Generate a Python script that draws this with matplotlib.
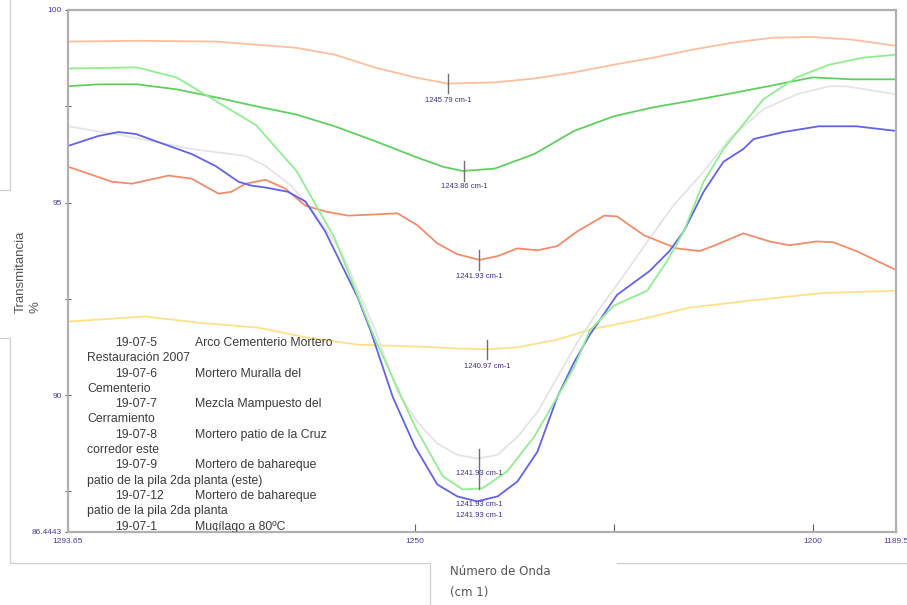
import matplotlib
matplotlib.use("Agg")
import matplotlib.pyplot as plt
from matplotlib.lines import Line2D

# --- spectra (wavenumber cm-1, transmittance %) ---
wn_peach = [1293.65, 1285.0, 1275.0, 1265.0, 1260.1, 1255.1, 1250.0, 1245.9, 1240.0, 1235.0,
            1230.0, 1225.0, 1220.1, 1215.1, 1210.1, 1205.1, 1200.0, 1195.0, 1189.5]
t_peach = [99.18, 99.20, 99.18, 99.02, 98.84, 98.51, 98.25, 98.09, 98.12, 98.22,
           98.38, 98.58, 98.76, 98.97, 99.15, 99.28, 99.30, 99.23, 99.07]

wn_dgreen = [1293.65, 1289.8, 1285.0, 1280.0, 1275.0, 1270.0, 1265.0, 1260.1, 1255.1, 1250.0,
             1246.5, 1244.0, 1240.0, 1235.0, 1230.0, 1225.0, 1220.1, 1215.1, 1210.1, 1205.1,
             1200.0, 1195.0, 1189.5]
t_dgreen = [98.02, 98.07, 98.07, 97.94, 97.73, 97.50, 97.29, 96.98, 96.60, 96.19,
            95.93, 95.82, 95.88, 96.26, 96.86, 97.24, 97.47, 97.65, 97.84, 98.04,
            98.25, 98.20, 98.20]

wn_lgreen = [1293.65, 1285.0, 1280.0, 1275.0, 1270.0, 1264.9, 1260.1, 1255.1, 1250.0, 1246.5,
             1244.0, 1241.5, 1238.4, 1235.0, 1232.1, 1230.0, 1228.0, 1225.0, 1220.8, 1218.3,
             1216.2, 1213.7, 1211.2, 1206.2, 1202.0, 1197.9, 1193.7, 1189.5]
t_lgreen = [98.48, 98.51, 98.25, 97.63, 97.01, 95.82, 94.07, 91.49, 89.18, 87.89,
            87.55, 87.58, 88.02, 88.92, 89.95, 90.72, 91.68, 92.32, 92.71, 93.48,
            94.25, 95.54, 96.39, 97.68, 98.25, 98.58, 98.76, 98.84]

wn_blue = [1293.65, 1289.8, 1287.3, 1285.1, 1282.3, 1278.1, 1275.1, 1272.2, 1270.6, 1268.8,
           1266.0, 1263.8, 1261.3, 1257.2, 1255.6, 1252.8, 1250.0, 1247.2, 1244.7, 1242.2,
           1239.6, 1237.1, 1234.6, 1232.1, 1230.0, 1228.0, 1224.6, 1220.5, 1218.0, 1216.2,
           1213.7, 1211.2, 1208.7, 1207.4, 1203.7, 1199.2, 1194.5, 1189.5]
t_blue = [96.47, 96.73, 96.83, 96.78, 96.57, 96.26, 95.95, 95.54, 95.44, 95.39,
          95.28, 95.03, 94.25, 92.53, 91.68, 89.95, 88.66, 87.68, 87.37, 87.24,
          87.37, 87.76, 88.53, 89.95, 90.85, 91.57, 92.60, 93.22, 93.74, 94.25,
          95.28, 96.06, 96.39, 96.65, 96.83, 96.98, 96.98, 96.86]

wn_gray = [1293.65, 1286.4, 1278.1, 1271.3, 1268.8, 1265.6, 1263.1, 1259.3, 1255.0, 1252.2,
           1249.7, 1247.2, 1244.7, 1242.2, 1239.6, 1237.1, 1234.6, 1232.1, 1229.6, 1226.7,
           1223.7, 1220.5, 1217.5, 1213.7, 1210.5, 1206.2, 1202.0, 1197.9, 1195.8, 1189.5]
t_gray = [96.98, 96.73, 96.39, 96.21, 95.95, 95.44, 94.85, 93.74, 91.68, 90.08,
          89.30, 88.74, 88.45, 88.35, 88.45, 88.92, 89.56, 90.46, 91.37, 92.27,
          93.12, 94.07, 94.92, 95.80, 96.65, 97.42, 97.81, 98.02, 98.02, 97.81]

wn_orange = [1293.65, 1288.1, 1285.6, 1281.0, 1278.1, 1274.7, 1273.1, 1271.3, 1268.8, 1266.3,
             1263.8, 1261.3, 1258.4, 1255.1, 1252.2, 1249.7, 1247.2, 1244.7, 1241.9, 1239.6,
             1237.1, 1234.6, 1232.1, 1229.6, 1226.2, 1224.6, 1221.2, 1217.1, 1214.2, 1212.5,
             1208.7, 1205.4, 1202.9, 1199.5, 1197.4, 1194.5, 1189.5]
t_orange = [95.93, 95.54, 95.49, 95.70, 95.62, 95.23, 95.28, 95.49, 95.59, 95.36,
            94.92, 94.77, 94.66, 94.69, 94.72, 94.41, 93.94, 93.66, 93.51, 93.61,
            93.81, 93.76, 93.87, 94.25, 94.66, 94.64, 94.15, 93.81, 93.74, 93.87,
            94.20, 93.99, 93.89, 93.99, 93.97, 93.74, 93.25]

wn_yellow = [1293.65, 1283.9, 1277.2, 1269.7, 1263.5, 1257.2, 1249.7, 1244.7, 1240.9, 1237.1,
             1232.1, 1228.0, 1221.7, 1215.5, 1207.1, 1198.7, 1189.5]
t_yellow = [91.91, 92.04, 91.88, 91.75, 91.49, 91.31, 91.26, 91.21, 91.19, 91.24,
            91.44, 91.70, 91.96, 92.27, 92.47, 92.65, 92.71]

# peak markers: position, tick top / bottom, label height
peak_wn = [1245.79, 1243.86, 1241.93, 1240.97, 1241.93, 1241.93, 1241.93]
peak_top = [98.35, 96.08, 93.76, 91.44, 88.61, None, None]
peak_bot = [97.84, 95.57, 93.25, 90.93, 87.55, None, None]
peak_lab_y = [97.64, 95.42, 93.07, 90.75, 87.96, 87.16, 86.88]

# legend text (sample code, description, wrapped line)
leg_codes = ["19-07-5", "19-07-6", "19-07-7", "19-07-8", "19-07-9", "19-07-12", "19-07-1"]
leg_names = ["Arco Cementerio Mortero", "Mortero Muralla del", "Mezcla Mampuesto del",
             "Mortero patio de la Cruz", "Mortero de bahareque", "Mortero de bahareque",
             "Mucílago a 80ºC"]
leg_wrap = ["Restauración 2007", "Cementerio", "Cerramiento", "corredor este",
            "patio de la pila 2da planta (este)", "patio de la pila 2da planta", ""]

xtick_vals = [1293.65, 1275, 1250, 1225, 1200, 1189.5]
xtick_labs = ["1293.65", "", "1250", "", "1200", "1189.5"]
ytick_vals = [86.4443, 90, 95, 100]
ytick_labs = ["86.4443", "90", "95", "100"]
ytick_minor = [87.5, 92.5, 97.5]

W, H = 907, 605
fig = plt.figure(figsize=(W / 100, H / 100), dpi=100)
ax = fig.add_axes([68 / W, 1 - 532 / H, 828 / W, 522 / H])

lw = 1.3
ax.plot(wn_yellow, t_yellow, color="#ffe08a", lw=lw)
ax.plot(wn_gray, t_gray, color="#e4e4e4", lw=lw)
ax.plot(wn_orange, t_orange, color="#ef8d6b", lw=lw)
ax.plot(wn_peach, t_peach, color="#fcbe9e", lw=lw)
ax.plot(wn_dgreen, t_dgreen, color="#5fd05f", lw=lw)
ax.plot(wn_blue, t_blue, color="#6262e8", lw=lw)
ax.plot(wn_lgreen, t_lgreen, color="#90ee90", lw=lw)

ax.set_xlim(1293.65, 1189.5)
ax.set_ylim(86.4443, 100)

for x, t0, t1, ty in zip(peak_wn, peak_top, peak_bot, peak_lab_y):
    if t0 is not None:
        ax.plot([x, x], [t1, t0], color="#707070", lw=1.0)
    ax.text(x, ty, f"{x:.2f} cm-1", ha="center", va="center", fontsize=5.5,
            color="#3b2f86", family="Liberation Sans")

# legend text block inside the axes (clipped at the bottom)
row_h = 15.3
y0 = 343
lfont = dict(fontsize=8.8, color="#3c3c3c", family="Liberation Sans", va="center",
             transform=ax.transAxes, clip_on=True)
for i, (code, name, wrap) in enumerate(zip(leg_codes, leg_names, leg_wrap)):
    py1 = y0 + row_h * (2 * i)
    py2 = py1 + row_h
    t = ax.text((115 - 68) / 828, (532 - py1) / 522, code, **lfont)
    t = ax.text((195 - 68) / 828, (532 - py1) / 522, name, **lfont)
    if wrap:
        ax.text((87 - 68) / 828, (532 - py2) / 522, wrap, **lfont)

ax.set_xticks(xtick_vals)
ax.set_xticklabels(xtick_labs)
ax.set_yticks(ytick_vals)
ax.set_yticklabels(ytick_labs)
ax.set_yticks(ytick_minor, minor=True)
ax.tick_params(axis="x", direction="in", length=6, width=0.8, color="#606060",
               labelsize=6, labelcolor="#4a3a9a", pad=4)
ax.tick_params(axis="y", which="both", direction="inout", length=5, width=0.8, color="#606060",
               labelsize=6, labelcolor="#4a3a9a", pad=2)
for lab in ax.get_xticklabels() + ax.get_yticklabels():
    lab.set_family("Liberation Sans")

for side in ["left", "right", "bottom", "top"]:
    ax.spines[side].set_color("#b0b0b0")
    ax.spines[side].set_linewidth(1.6)

# axis titles
fig.text(28 / W, 1 - 272 / H, "Transmitancia\n%", rotation=90, ha="center", va="center",
         multialignment="left", fontsize=9.5, color="#555555", linespacing=1.3,
         family="Liberation Sans")
fig.text(450 / W, 1 - 582 / H, "Número de Onda\n(cm 1)", ha="left", va="center",
         fontsize=8.5, color="#555555", linespacing=1.75, family="DejaVu Sans")

# thin frame lines left over from the surrounding text boxes
def frame(xs, ys):
    fig.add_artist(Line2D([x / W for x in xs], [1 - y / H for y in ys],
                          color="#cfcfcf", lw=0.9))

frame([10, 10, 0], [0, 190, 190])
frame([0, 10, 10, 430, 430], [338, 338, 563, 563, 605])
frame([617, 907], [563, 563])

fig.savefig("out.png", dpi=100)
